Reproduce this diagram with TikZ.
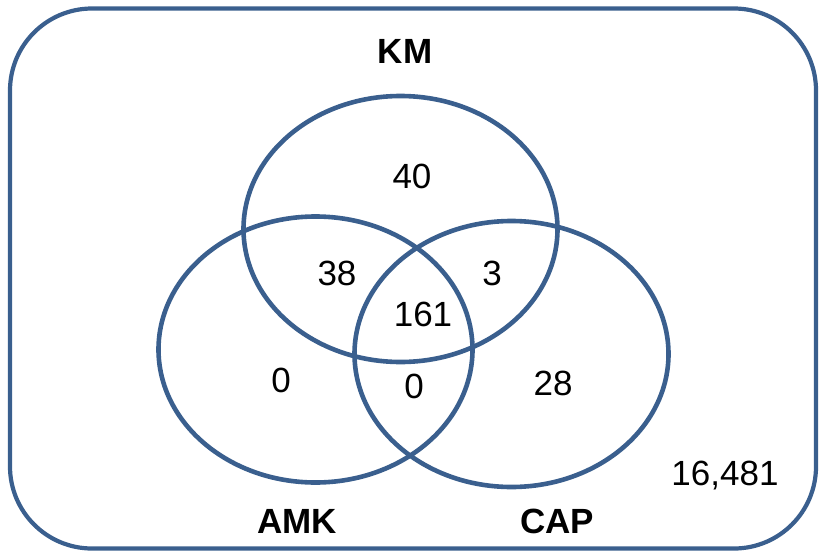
\documentclass[tikz,border=0pt]{standalone}
\usepackage{fontspec}
\setmainfont{Liberation Sans}
\usetikzlibrary{shapes.geometric}
\definecolor{vblue}{RGB}{58,95,142}
\tikzset{
  set/.style={draw=vblue, line width=4.6pt, ellipse, minimum width=314pt, minimum height=266pt, inner sep=0pt},
  num/.style={anchor=base, inner sep=0pt, font=\fontsize{35}{40}\selectfont},
  lab/.style={anchor=base, inner sep=0pt, font=\fontsize{35}{40}\selectfont\bfseries}
}
\begin{document}
\begin{tikzpicture}[x=1pt, y=-1pt]
\useasboundingbox (0,0) rectangle (819,552);
\draw[vblue, line width=4.2pt, rounded corners=82pt] (10,8.5) rectangle (816,548.5);
\node[set] (km) at (400.5,229) {};
\node[set] (amk) at (315.5,349.5) {};
\node[set] (cap) at (511.5,354) {};
\node[lab] (tkm) at (405,63) {KM};
\node[lab] (tamk) at (297,533) {AMK};
\node[lab] (tcap) at (557,533) {CAP};
\node[num] (n40) at (412,188) {40};
\node[num] (n38) at (337,285) {38};
\node[num] (n3) at (492,285) {3};
\node[num] (n161) at (423,326) {161};
\node[num] (n0a) at (281,392) {0};
\node[num] (n0b) at (414,398) {0};
\node[num] (n28) at (553,395) {28};
\node[num] (nout) at (725,485) {16,481};
\end{tikzpicture}
\end{document}
